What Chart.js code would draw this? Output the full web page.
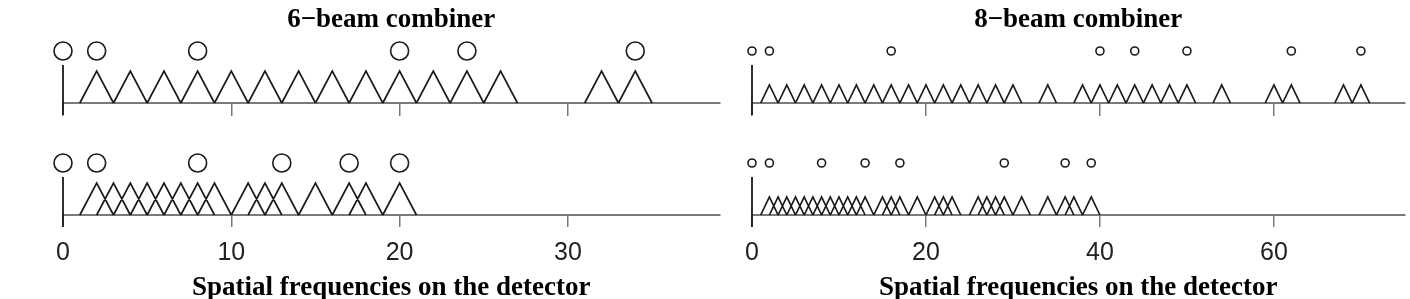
<!DOCTYPE html>
<html><head><meta charset="utf-8">
<script src="https://cdn.jsdelivr.net/npm/chart.js@4.4.1/dist/chart.umd.min.js"></script>
<style>
html,body{margin:0;padding:0;background:#fff;width:1410px;height:299px;overflow:hidden}
.panel{position:absolute;top:0;height:299px}
#p6{left:0;width:730px}
#p8{left:730px;width:680px}
</style></head><body>
<div class="panel" id="p6"><canvas id="c6"></canvas></div>
<div class="panel" id="p8"><canvas id="c8"></canvas></div>
<script>
// ---- data ----
const title6 = '6\u2212beam combiner';
const title8 = '8\u2212beam combiner';
const xTitle = 'Spatial frequencies on the detector';

const beams6Top = [0, 2, 8, 20, 24, 34];
const bases6Top = [2, 4, 6, 8, 10, 12, 14, 16, 18, 20, 22, 24, 26, 32, 34];
const beams6Bot = [0, 2, 8, 13, 17, 20];
const bases6Bot = [2, 3, 4, 5, 6, 7, 8, 9, 11, 12, 13, 15, 17, 18, 20];

const beams8Top = [0, 2, 16, 40, 44, 50, 62, 70];
const bases8Top = [2, 4, 6, 8, 10, 12, 14, 16, 18, 20, 22, 24, 26, 28, 30, 34, 38, 40, 42, 44, 46, 48, 50, 54, 60, 62, 68, 70];
const beams8Bot = [0, 2, 8, 13, 17, 29, 36, 39];
const bases8Bot = [2, 3, 4, 5, 6, 7, 8, 9, 10, 11, 12, 13, 15, 16, 17, 19, 21, 22, 23, 26, 27, 28, 29, 31, 34, 36, 37, 39];

const ticks6 = [0, 10, 20, 30];
const ticks8 = [0, 20, 40, 60];
const xMax6 = 39;
const xMax8 = 75;

// ---- layout / style constants ----
const Y_MAX = 180;
const TOP_BASE = 112, BOT_BASE = 0;
const CIRCLE_OFF = 52;   // circle centre above baseline
const ORIGIN_UP = 38, TICK_LEN = 12;
const AXIS_GREY = '#7a7a7a';
const INK = '#1a1a1a';

function triangles(centres, base, h) {
  const pts = [];
  centres.forEach(c => {
    pts.push({x: c - 1, y: base}, {x: c, y: base + h}, {x: c + 1, y: base}, {x: c + 1, y: null});
  });
  return pts;
}
function circles(beams, base) {
  return beams.map(b => ({x: b, y: base + CIRCLE_OFF}));
}
function originLine(origin) {
  return [
    {x: origin, y: TOP_BASE - TICK_LEN}, {x: origin, y: TOP_BASE + ORIGIN_UP}, {x: origin, y: null},
    {x: origin, y: BOT_BASE - TICK_LEN}, {x: origin, y: BOT_BASE + ORIGIN_UP}
  ];
}

function makeChart(id, cfg) {
  const setTicks = s => { s.ticks = cfg.ticks.map(v => ({value: v})); };
  const grid = {drawOnChartArea: false, drawTicks: true, tickLength: TICK_LEN, color: AXIS_GREY, lineWidth: 1.5};
  const border = {display: true, color: AXIS_GREY, width: 2};
  const triStyle = {borderColor: INK, borderWidth: 1.7, pointRadius: 0, tension: 0, spanGaps: false, fill: false, clip: false};
  const circStyle = {showLine: false, pointStyle: 'circle', pointRadius: cfg.r, pointHoverRadius: cfg.r,
    pointBorderColor: INK, pointBorderWidth: 1.6, pointBackgroundColor: 'rgba(255,255,255,0)', clip: false};
  return new Chart(document.getElementById(id), {
    type: 'line',
    data: {
      datasets: [
        Object.assign({data: triangles(cfg.basesTop, TOP_BASE, cfg.h)}, triStyle),
        Object.assign({data: triangles(cfg.basesBot, BOT_BASE, cfg.h)}, triStyle),
        Object.assign({data: circles(cfg.beamsTop, TOP_BASE)}, circStyle),
        Object.assign({data: circles(cfg.beamsBot, BOT_BASE)}, circStyle),
        {data: originLine(cfg.beamsTop[0]), borderColor: INK, borderWidth: 1.8, pointRadius: 0, spanGaps: false, clip: false}
      ]
    },
    options: {
      responsive: true, maintainAspectRatio: false, animation: false,
      events: [],
      layout: {padding: cfg.pad},
      plugins: {
        legend: {display: false}, tooltip: {enabled: false},
        title: {display: true, text: cfg.title, fullSize: false, color: '#000',
          font: {family: 'Liberation Serif', weight: 'bold', size: 27, lineHeight: 1},
          padding: {top: 7, bottom: 1}}
      },
      scales: {
        x: {type: 'linear', min: 0, max: cfg.xMax, position: 'bottom', afterBuildTicks: setTicks,
          ticks: {includeBounds: false, padding: 13.5, maxRotation: 0, autoSkip: false, color: '#222',
            font: {family: 'Liberation Sans', size: 25, lineHeight: 1}},
          grid: grid, border: border,
          title: {display: true, text: xTitle, color: '#000',
            font: {family: 'Liberation Serif', weight: 'bold', size: 27, lineHeight: 1},
            padding: {top: -4.5, bottom: -2.5}}},
        xTop: {type: 'linear', axis: 'x', min: 0, max: cfg.xMax, position: {y: TOP_BASE}, afterBuildTicks: setTicks,
          ticks: {display: false, includeBounds: false},
          grid: grid, border: border},
        y: {type: 'linear', min: 0, max: Y_MAX, display: false}
      }
    }
  });
}

makeChart('c6', {title: title6, beamsTop: beams6Top, basesTop: bases6Top, beamsBot: beams6Bot, basesBot: bases6Bot,
  ticks: ticks6, xMax: xMax6, h: 32, r: 9, pad: {left: 63, right: 8, top: 0, bottom: 0}});
makeChart('c8', {title: title8, beamsTop: beams8Top, basesTop: bases8Top, beamsBot: beams8Bot, basesBot: bases8Bot,
  ticks: ticks8, xMax: xMax8, h: 18, r: 4, pad: {left: 22, right: 0, top: 0, bottom: 0}});
</script>
</body></html>
